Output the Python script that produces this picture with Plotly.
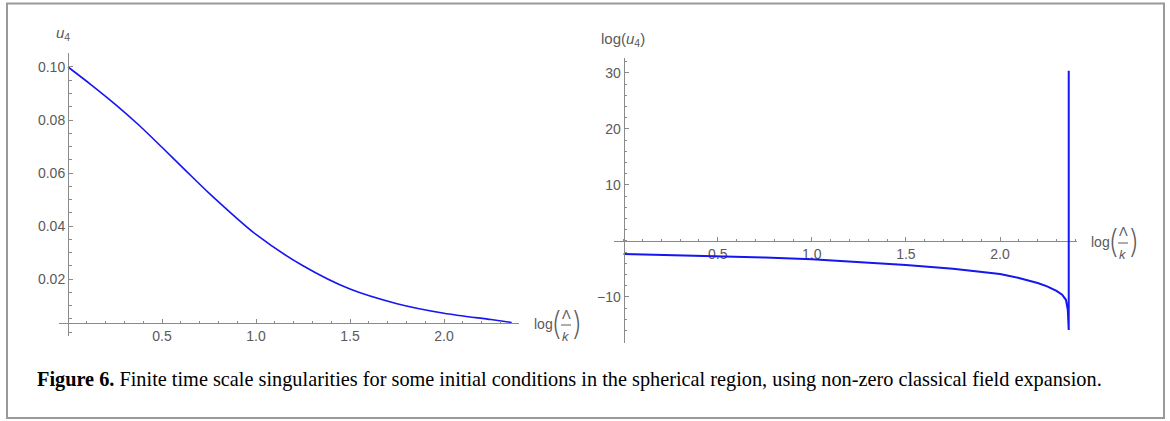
import plotly.graph_objects as go

W, H = 1170, 421

# left panel: u4 against log(Lambda/k)
left_x = [0.0, 0.125, 0.25, 0.375, 0.5, 0.625, 0.75, 1.0, 1.25, 1.5, 1.75, 2.0, 2.25, 2.36]
left_u4 = [0.100, 0.0932, 0.0860, 0.0782, 0.0697, 0.0610, 0.0524, 0.0368, 0.0250, 0.0162,
           0.0107, 0.0071, 0.0047, 0.0036]

# right panel: log(u4) against log(Lambda/k), blows up near 2.365
right_x = [0.0, 0.25, 0.5, 0.75, 1.0, 1.25, 1.5, 1.75, 2.0, 2.1, 2.2, 2.25, 2.3, 2.33,
           2.35, 2.36, 2.365, 2.365]
right_log_u4 = [-2.32, -2.5, -2.68, -2.95, -3.27, -3.75, -4.29, -4.95, -5.9, -6.6, -7.5,
                -8.1, -8.9, -9.6, -10.5, -12.3, -15.9, 30.4]

left_xticks = [0.5, 1.0, 1.5, 2.0]
left_yticks = [0.02, 0.04, 0.06, 0.08, 0.10]
left_ylabels = ["0.02", "0.04", "0.06", "0.08", "0.10"]
right_xticks = [0.5, 1.0, 1.5, 2.0]
right_yticks = [-10, 10, 20, 30]
right_ylabels = ["\u221210", "10", "20", "30"]

caption = ("<b>Figure 6.</b> Finite time scale singularities for some initial conditions "
           "in the spherical region, using non-zero classical field expansion.")

BLUE = "rgb(22,22,240)"
AX = "#8a8a8a"
TXT = "#5a5a5a"
SANS = "Liberation Sans"


def fx(p):
    return p / W


def fy(p):
    return 1 - p / H


def axis(domain, rng, pos, tickvals, ticktext, minor_vals, layer="above traces"):
    return dict(
        domain=domain, range=rng, anchor="free", position=pos,
        showline=True, linecolor=AX, linewidth=1,
        ticks="inside", ticklen=4, tickwidth=1, tickcolor=AX,
        tickmode="array", tickvals=tickvals, ticktext=ticktext,
        minor=dict(tickmode="array", tickvals=minor_vals, ticks="inside",
                   ticklen=2.5, tickwidth=1, tickcolor=AX, showgrid=False),
        showgrid=False, zeroline=False, layer=layer,
        tickfont=dict(family=SANS, size=14, color=TXT), fixedrange=True,
    )


fig = go.Figure()
fig.add_trace(go.Scatter(x=left_x, y=left_u4, mode="lines", xaxis="x", yaxis="y",
                         line=dict(color=BLUE, width=1.6, shape="spline", smoothing=0.8)))
fig.add_trace(go.Scatter(x=right_x, y=right_log_u4, mode="lines", xaxis="x2", yaxis="y2",
                         line=dict(color=BLUE, width=2)))

# pixel geometry of the two panels
L_x0, L_x1, L_y0, L_y1 = 58.6, 519.2, 53, 336
R_x0, R_x1, R_y0, R_y1 = 614.2, 1077.2, 58.3, 342.7

fig.update_layout(
    width=W, height=H, autosize=False, showlegend=False,
    margin=dict(l=0, r=0, t=0, b=0),
    paper_bgcolor="white", plot_bgcolor="white",
    xaxis=axis([fx(L_x0), fx(L_x1)], [-0.05, 2.40], fy(323),
               left_xticks, ["0.5", "1.0", "1.5", "2.0"], [i / 10 for i in range(25)]),
    yaxis=axis([fy(L_y1), fy(L_y0)], [-0.0015, 0.10528], fx(68),
               left_yticks, left_ylabels, [i * 0.005 for i in range(22)]),
    xaxis2=axis([fx(R_x0), fx(R_x1)], [-0.05, 2.41], fy(241),
                right_xticks, ["0.5", "1.0", "1.5", "2.0"], [i / 10 for i in range(25)],
                layer="below traces"),
    yaxis2=axis([fy(R_y1), fy(R_y0)], [-18.16, 32.6], fx(623.6),
                right_yticks, right_ylabels, list(range(-18, 33, 2))),
)

ann = []
shapes = []


def text(px, py, s, size=14, family=SANS, color=TXT, xanchor="center", weight=None):
    font = dict(family=family, size=size, color=color)
    if weight:
        font["weight"] = weight
    ann.append(dict(x=fx(px), y=fy(py), xref="paper", yref="paper", text=s, showarrow=False,
                    xanchor=xanchor, yanchor="middle", font=font))


def frac_label(px, py):
    # log( Lambda / k ) drawn piece by piece
    text(px, py, "log")
    text(px + 13, py - 1, "(", size=32, family="Inter", weight=200)
    text(px + 23, py - 10, "\u039b", size=13)
    text(px + 23, py + 12, "<i>k</i>", size=13)
    text(px + 34, py - 1, ")", size=32, family="Inter", weight=200)
    shapes.append(dict(type="line", xref="paper", yref="paper",
                       x0=fx(px + 18), x1=fx(px + 28), y0=fy(py + 1), y1=fy(py + 1),
                       line=dict(color=TXT, width=1)))


text(63, 33, "<i>u</i><sub>4</sub>", size=15)
text(623, 40, "log(<i>u</i><sub>4</sub>)", size=15)
frac_label(543, 324)
frac_label(1100, 242)
text(35, 379, caption, size=20.3, family="Liberation Serif", color="black", xanchor="left")

shapes.append(dict(type="rect", xref="paper", yref="paper",
                   x0=fx(7), x1=fx(1164), y0=fy(418), y1=fy(3.5),
                   line=dict(color="#9a9a9a", width=2)))

fig.update_layout(annotations=ann, shapes=shapes)
fig.write_html("out.html", config={"displayModeBar": False},
               post_script="document.body.style.margin='0';")
